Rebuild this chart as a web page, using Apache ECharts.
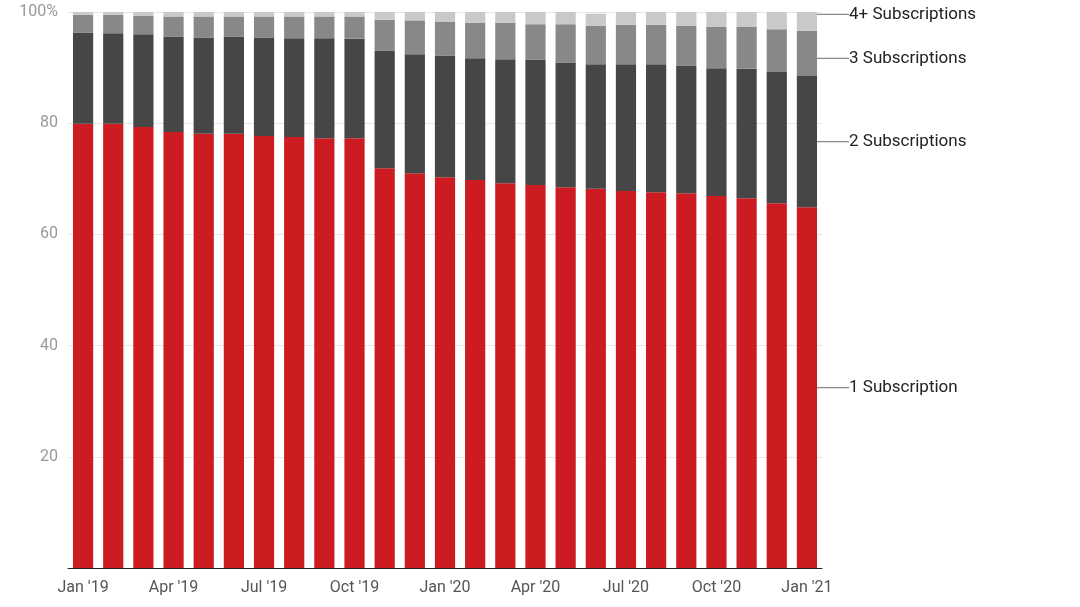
<!DOCTYPE html>
<html>
<head>
<meta charset="utf-8">
<script src="https://cdn.jsdelivr.net/npm/echarts@6/dist/echarts.min.js"></script>
<style>html,body{margin:0;background:#fff}#chart{width:1080px;height:607px}</style>
</head>
<body>
<div id="chart"></div>
<script>
var months = ["Jan '19","Feb '19","Mar '19","Apr '19","May '19","Jun '19","Jul '19","Aug '19","Sep '19","Oct '19","Nov '19","Dec '19",
  "Jan '20","Feb '20","Mar '20","Apr '20","May '20","Jun '20","Jul '20","Aug '20","Sep '20","Oct '20","Nov '20","Dec '20","Jan '21"];
// share of subscribers (%)
var oneSub = [79.9,79.9,79.3,78.4,78.1,78.1,77.7,77.5,77.3,77.3,71.9,71.0,70.3,69.8,69.2,68.9,68.5,68.2,67.8,67.6,67.4,66.9,66.5,65.6,64.9];
var twoSub = [16.4,16.3,16.7,17.2,17.3,17.5,17.7,17.8,18.0,17.9,21.1,21.4,21.8,21.9,22.3,22.5,22.4,22.4,22.8,23.0,22.9,23.0,23.3,23.6,23.6];
var threeSub = [3.2,3.3,3.3,3.6,3.8,3.6,3.8,3.9,3.9,4.0,5.6,6.1,6.1,6.4,6.6,6.4,6.9,6.9,7.1,7.1,7.2,7.4,7.5,7.7,8.1];
var fourSub = [0.5,0.5,0.7,0.8,0.8,0.8,0.8,0.8,0.8,0.8,1.4,1.5,1.8,1.9,1.9,2.2,2.2,2.2,2.3,2.3,2.5,2.7,2.7,3.1,3.4];

var names = ['1 Subscription','2 Subscriptions','3 Subscriptions','4+ Subscriptions'];
var colors = ['#cc1c22','#464646','#888888','#c9c9c9'];
var sets = [oneSub, twoSub, threeSub, fourSub];
var labelDy = [0, 0, 5, -7];

var chart = echarts.init(document.getElementById('chart'));
chart.setOption({
  textStyle: {fontFamily: 'Roboto'},
  grid: {left: 68, right: 258, top: 12, bottom: 39},
  xAxis: {
    type: 'category', data: months,
    axisLine: {lineStyle: {color: '#222'}},
    axisTick: {show: false},
    axisLabel: {interval: 2, color: '#555', fontSize: 16, margin: 12}
  },
  yAxis: {
    type: 'value', min: 0, max: 100, interval: 20,
    axisLine: {show: false}, axisTick: {show: false},
    splitLine: {lineStyle: {color: '#e6e6e6'}},
    axisLabel: {color: '#999', fontSize: 16, margin: 10,
      formatter: function (v) { return v === 0 ? '' : (v === 100 ? '100%' : v); }}
  },
  series: sets.map(function (arr, i) {
    return {
      name: names[i], type: 'bar', stack: 'all', barCategoryGap: '33%',
      itemStyle: {color: colors[i]},
      data: arr.map(function (v, j) {
        if (j !== arr.length - 1) return v;
        return {value: v, label: {show: true, position: 'right', formatter: names[i],
          color: '#222', fontSize: 17, distance: 32}};
      }),
      labelLayout: {dy: labelDy[i]},
      labelLine: {show: true, length2: 0, lineStyle: {color: '#888', width: 1.2}}
    };
  })
});
</script>
</body>
</html>
